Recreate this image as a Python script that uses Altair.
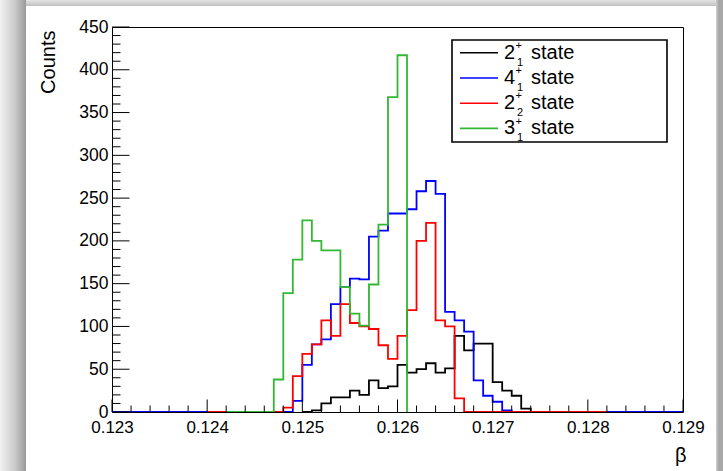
import altair as alt
import pandas as pd

# Histogram binning (β), bin width 0.0001
BIN = 0.0001
X_MIN, X_MAX = 0.123, 0.129
Y_MIN, Y_MAX = 0, 450

# Per-state histograms: first bin low edge + bin contents
state_names = ["2_1", "4_1", "2_2", "3_1"]
state_colors = ["#000000", "#0000ff", "#ff0000", "#33b833"]

black_start = 0.1250
black_counts = [0, 2, 10, 17, 17, 25, 20, 37, 28, 30, 55, 46, 50, 57, 46, 51,
                89, 72, 80, 80, 35, 25, 19, 4]

blue_start = 0.1230
blue_counts = ([0] * 19
               + [13, 55, 79, 85, 126, 146, 156, 155, 205, 212, 232, 232, 237,
                  258, 270, 255, 117, 107, 94, 37, 19, 12, 2]
               + [0] * 18)

red_start = 0.1240
red_counts = ([0] * 8
              + [5, 42, 68, 79, 107, 89, 126, 104, 100, 97, 78, 62, 89, 119,
                 200, 221, 107, 100, 16]
              + [0] * 15)

green_start = 0.1242
green_counts = ([0] * 5
                + [38, 139, 178, 224, 200, 189, 189, 146, 115, 101, 149, 219,
                   368, 417])

# Legend text pieces
legend_main = ["2", "4", "2", "3"]
legend_sup = ["+", "+", "+", "+"]
legend_sub = ["1", "1", "2", "1"]

# Axis tick values
x_major = [0.123, 0.124, 0.125, 0.126, 0.127, 0.128, 0.129]
x_minor = [round(0.123 + 0.0002 * i, 4) for i in range(31)]
y_major = [0, 50, 100, 150, 200, 250, 300, 350, 400, 450]
y_minor = list(range(0, 451, 10))

W, H = 571, 385
FONT = "Liberation Sans"


def hist_rows(name, start, counts):
    rows = []
    for i, c in enumerate(counts):
        rows.append({"state": name, "x": round(start + i * BIN, 4), "y": c, "i": i})
    # close the outline down to the baseline at the upper range edge
    rows.append({"state": name, "x": round(start + len(counts) * BIN, 4),
                 "y": 0, "i": len(counts)})
    return rows


series = [
    (state_names[0], black_start, black_counts),
    (state_names[1], blue_start, blue_counts),
    (state_names[2], red_start, red_counts),
    (state_names[3], green_start, green_counts),
]
rows = []
for n, s, c in series:
    rows += hist_rows(n, s, c)
hist = pd.DataFrame(rows)

xscale = alt.Scale(domain=[X_MIN, X_MAX], nice=False, zero=False)
yscale = alt.Scale(domain=[Y_MIN, Y_MAX], nice=False)

x_axis = alt.Axis(values=x_major, format=".3f", domain=False, ticks=False,
                  grid=False, labelFont=FONT, labelFontSize=17,
                  labelColor="#000000", labelPadding=7, labelFlush=False,
                  title="β", titleFont=FONT, titleFontSize=20,
                  titleFontWeight="normal", titleColor="#000000",
                  titleX=W + 3, titleY=49, titleAlign="right",
                  titleAnchor="end", titleBaseline="alphabetic")
y_axis = alt.Axis(values=y_major, domain=False, ticks=False, grid=False,
                  labelFont=FONT, labelFontSize=17.5, labelColor="#000000",
                  labelPadding=4, labelFlush=False,
                  title="Counts", titleFont=FONT, titleFontSize=20,
                  titleFontWeight="normal", titleColor="#000000",
                  titleAngle=-90, titleX=-58, titleY=3,
                  titleAlign="right", titleAnchor="end",
                  titleBaseline="alphabetic")

# Page shadow around the canvas
shadow_left = alt.Chart(pd.DataFrame({"k": [0]})).mark_rect(
    fill=alt.LinearGradient(
        gradient="linear", x1=0, x2=1, y1=0, y2=0,
        stops=[alt.GradientStop(color="#f2f2f2", offset=0),
               alt.GradientStop(color="#c8c8c8", offset=0.6),
               alt.GradientStop(color="#999999", offset=1)]),
).encode(x=alt.value(-112), x2=alt.value(-86), y=alt.value(-27), y2=alt.value(444))

shadow_top = alt.Chart(pd.DataFrame({"k": [0]})).mark_rect(
    fill=alt.LinearGradient(
        gradient="linear", x1=0, x2=0, y1=0, y2=1,
        stops=[alt.GradientStop(color="#e4e4e4", offset=0),
               alt.GradientStop(color="#c0c0c0", offset=1)]),
).encode(x=alt.value(-86), x2=alt.value(611), y=alt.value(-27), y2=alt.value(-21))

shadow_right = alt.Chart(pd.DataFrame({"k": [0]})).mark_rect(
    fill=alt.LinearGradient(
        gradient="linear", x1=0, x2=1, y1=0, y2=0,
        stops=[alt.GradientStop(color="#d0d0d0", offset=0),
               alt.GradientStop(color="#a6a6a6", offset=0.4),
               alt.GradientStop(color="#a8a8a8", offset=1)]),
).encode(x=alt.value(604), x2=alt.value(611), y=alt.value(-27), y2=alt.value(444))

# Histogram outlines, drawn in order black, blue, red, green
hist_layers = []
for k, name in enumerate(state_names):
    hist_layers.append(
        alt.Chart(hist).transform_filter(alt.datum.state == name)
        .mark_line(interpolate="step-after", color=state_colors[k],
                   strokeWidth=1.8, clip=True)
        .encode(x=alt.X("x:Q", scale=xscale, axis=x_axis, title="β"),
                y=alt.Y("y:Q", scale=yscale, axis=y_axis, title="Counts"),
                order="i:Q")
    )

# Inward tick marks (ROOT style)
xmin_df = pd.DataFrame({"x": [v for v in x_minor if v not in x_major]})
xmaj_df = pd.DataFrame({"x": x_major})
ymin_df = pd.DataFrame({"y": [v for v in y_minor if v % 50 != 0]})
ymaj_df = pd.DataFrame({"y": y_major})

tick_style = dict(color="#000000", strokeWidth=1)
xt_minor = alt.Chart(xmin_df).mark_rule(**tick_style).encode(
    x=alt.X("x:Q", scale=xscale, axis=x_axis, title="β"),
    y=alt.value(H), y2=alt.value(H - 6.5))
xt_major = alt.Chart(xmaj_df).mark_rule(**tick_style).encode(
    x=alt.X("x:Q", scale=xscale, axis=x_axis, title="β"),
    y=alt.value(H), y2=alt.value(H - 12.5))
yt_minor = alt.Chart(ymin_df).mark_rule(**tick_style).encode(
    y=alt.Y("y:Q", scale=yscale, axis=y_axis, title="Counts"),
    x=alt.value(0), x2=alt.value(8.5))
yt_major = alt.Chart(ymaj_df).mark_rule(**tick_style).encode(
    y=alt.Y("y:Q", scale=yscale, axis=y_axis, title="Counts"),
    x=alt.value(0), x2=alt.value(17.5))

# Legend box
leg = pd.DataFrame({"row": [0, 1, 2, 3], "main": legend_main, "sup": legend_sup,
                    "sub": legend_sub, "color": state_colors})

leg_box = alt.Chart(pd.DataFrame({"k": [0]})).mark_rect(
    fill="#ffffff", stroke="#000000", strokeWidth=1.6
).encode(x=alt.value(340), x2=alt.value(555), y=alt.value(13), y2=alt.value(115))

leg_base = alt.Chart(leg).transform_calculate(
    ly="25.8 + 25.2 * datum.row",
    ty="31.6 + 25.2 * datum.row",
    sy="22.0 + 25.2 * datum.row",
    by="38.6 + 25.2 * datum.row",
)

leg_lines = leg_base.mark_rule(strokeWidth=1.6).encode(
    x=alt.value(348), x2=alt.value(386),
    y=alt.Y("ly:Q", scale=None),
    color=alt.Color("color:N", scale=None, legend=None),
)
txt = dict(font=FONT, color="#000000", align="left", baseline="alphabetic")
leg_main = leg_base.mark_text(fontSize=20, **txt).encode(
    x=alt.value(392), y=alt.Y("ty:Q", scale=None), text="main:N")
leg_sup = leg_base.mark_text(fontSize=11, **txt).encode(
    x=alt.value(403.5), y=alt.Y("sy:Q", scale=None), text="sup:N")
leg_sub = leg_base.mark_text(fontSize=11, **txt).encode(
    x=alt.value(405), y=alt.Y("by:Q", scale=None), text="sub:N")
leg_word = leg_base.mark_text(fontSize=20, **txt).encode(
    x=alt.value(419), y=alt.Y("ty:Q", scale=None), text=alt.value("state"))

chart = alt.layer(
    shadow_left, shadow_top, shadow_right,
    *hist_layers,
    xt_minor, xt_major, yt_minor, yt_major,
    leg_box, leg_lines, leg_main, leg_sup, leg_sub, leg_word,
).properties(
    width=W, height=H,
    padding={"left": 112, "top": 27, "right": 40, "bottom": 59},
    autosize=alt.AutoSizeParams(type="none"),
    background="#ffffff",
).configure_view(
    stroke="#000000", strokeWidth=1,
)

chart.save("out.html", embed_options={"renderer": "svg", "actions": False})
